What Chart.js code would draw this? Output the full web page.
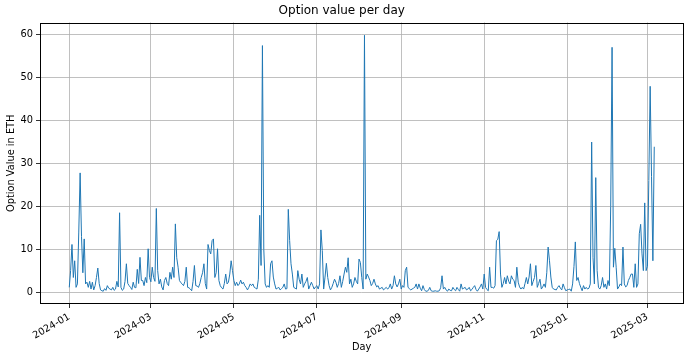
<!DOCTYPE html>
<html>
<head>
<meta charset="utf-8">
<script src="https://cdn.jsdelivr.net/npm/chart.js@4.4.1/dist/chart.umd.min.js"></script>
<style>
  body { margin: 0; background: #fff; }
  canvas { display: block; }
</style>
</head>
<body>
<canvas id="optionValue" width="690" height="360"></canvas>
<script>
// daily option value in ETH, one entry per day starting at startDay
const startDay = '2024-01-01';
const optionValues = [
  1.1, 5, 11.1, 3.4, 7.3, 1.1, 1.9, 14, 27.8, 13,
  4.5, 12.4, 1.9, 2.3, 1.1, 2.5, 0.7, 2.3, 0.5, 1.5,
  3.4, 5.6, 2.0, 0.5, 0.3, 0.2, 0.8, 0.4, 1.5, 0.9,
  0.7, 0.5, 1.1, 0.4, 0.7, 2.5, 1.2, 18.5, 1.1, 0.4,
  0.7, 2.5, 6.6, 2.0, 1.5, 1.1, 0.6, 2.3, 1.1, 1.0,
  5.3, 2.0, 8.1, 2.7, 2.7, 1.5, 3.4, 2.2, 10.1, 3.4,
  2.4, 5.8, 3.4, 2.5, 19.5, 5.0, 1.9, 3.0, 1.2, 0.5,
  2.7, 3.4, 2.0, 1.5, 4.6, 3.0, 5.8, 3.4, 15.9, 8.0,
  5.8, 2.7, 2.2, 1.9, 1.5, 2.5, 5.8, 1.1, 1.0, 0.7,
  0.3, 2.5, 6.2, 1.5, 1.4, 1.1, 2.0, 3.4, 4.5, 6.6,
  2.0, 0.7, 11.1, 9.7, 8.9, 12.0, 12.4, 3.4, 4.5, 10.1,
  2.7, 1.5, 1.0, 0.7, 2.0, 4.2, 1.9, 2.3, 4.2, 7.3,
  5.0, 2.7, 1.5, 2.3, 1.5, 1.9, 2.8, 1.9, 2.3, 1.5,
  1.1, 0.5, 1.1, 1.9, 1.5, 1.9, 1.1, 0.9, 0.7, 3.0,
  17.9, 6.2, 57.5, 10.0, 1.9, 1.1, 1.5, 1.1, 6.6, 7.3,
  3.5, 1.9, 0.7, 0.9, 1.1, 0.5, 0.8, 1.1, 1.9, 0.7,
  0.8, 19.3, 12.0, 6.6, 4.2, 1.1, 0.9, 0.7, 5.0, 3.0,
  1.9, 4.2, 1.1, 1.9, 2.5, 3.4, 0.7, 1.5, 2.3, 1.5,
  0.7, 1.2, 1.5, 0.7, 1.9, 14.5, 9.7, 0.7, 3.5, 6.7,
  3.4, 1.5, 0.5, 1.1, 2.0, 3.0, 2.3, 1.1, 2.0, 3.8,
  1.1, 2.5, 4.2, 5.8, 4.6, 8.0, 1.9, 3.0, 1.1, 1.9,
  3.4, 2.5, 1.9, 7.7, 6.9, 3.4, 0.7, 59.9, 3.0, 4.2,
  3.5, 2.7, 1.5, 2.0, 3.0, 1.9, 1.2, 1.5, 0.7, 0.9,
  1.1, 0.5, 0.8, 1.1, 0.7, 1.0, 1.9, 0.7, 1.5, 3.8,
  1.9, 1.2, 1.9, 3.0, 0.7, 1.5, 1.1, 5.0, 5.8, 1.1,
  0.8, 0.5, 0.7, 0.9, 1.1, 1.9, 0.7, 1.9, 0.9, 0.3,
  1.5, 0.6, 0.2, 0.2, 0.4, 1.1, 0.3, 0.2, 0.2, 0.3,
  0.2, 0.2, 0.3, 1.0, 3.8, 0.7, 1.1, 0.5, 0.2, 0.7,
  0.4, 0.3, 1.1, 0.6, 0.3, 1.1, 0.6, 0.2, 1.9, 0.7,
  0.9, 1.1, 0.5, 0.7, 1.1, 0.3, 0.6, 1.1, 1.5, 0.6,
  0.2, 0.7, 1.2, 1.9, 0.7, 4.2, 1.1, 0.6, 0.3, 5.8,
  1.1, 1.1, 0.9, 1.5, 12.0, 12.3, 14.1, 4.2, 1.1, 2.0,
  3.4, 1.9, 3.8, 2.5, 1.9, 3.8, 3.0, 2.7, 1.1, 5.8,
  2.3, 1.2, 0.7, 1.1, 0.7, 2.0, 3.4, 1.9, 3.5, 6.6,
  1.5, 2.5, 3.4, 6.2, 1.1, 2.0, 3.0, 0.7, 1.2, 1.9,
  1.1, 4.5, 10.5, 7.3, 3.5, 1.1, 0.7, 0.6, 0.5, 1.1,
  1.5, 0.9, 0.5, 1.9, 1.0, 0.3, 0.5, 0.6, 0.7, 0.2,
  1.9, 6.0, 11.7, 2.7, 3.4, 2.0, 1.1, 0.3, 1.5, 0.7,
  1.1, 0.7, 0.9, 1.9, 35.0, 8.0, 1.9, 26.7, 5.0, 1.1,
  0.7, 1.5, 3.4, 1.1, 1.9, 0.7, 2.7, 1.5, 20.0, 57.1,
  5.8, 10.2, 5.8, 0.7, 1.2, 1.9, 1.5, 10.5, 1.9, 1.2,
  1.5, 2.7, 3.4, 4.2, 4.2, 1.1, 6.6, 1.1, 1.9, 13.6,
  15.8, 8.9, 5.0, 20.8, 5.0, 6.0, 26.0, 48.0, 27.0, 7.3,
  33.9
];

const tickDates = ['2024-01-01', '2024-03-01', '2024-05-01', '2024-07-01',
                   '2024-09-01', '2024-11-01', '2025-01-01', '2025-03-01'];
const tickLabels = ['2024-01', '2024-03', '2024-05', '2024-07',
                    '2024-09', '2024-11', '2025-01', '2025-03'];
const yTicks = [0, 10, 20, 30, 40, 50, 60];

const dayOf = d => (Date.parse(d) - Date.parse(startDay)) / 86400000;
const tickDays = tickDates.map(dayOf);

const points = optionValues.map((v, i) => ({ x: i, y: v }));

// matplotlib style 5% margins
const lastDay = optionValues.length - 1;
const xPad = lastDay * 0.05;
const yMin = Math.min(...optionValues), yMax = Math.max(...optionValues);
const yPad = (yMax - yMin) * 0.05;

const font = { family: 'DejaVu Sans', size: 9.8 };

const frame = {
  id: 'frame',
  afterDraw(chart) {
    const { ctx, chartArea: a } = chart;
    const l = Math.round(a.left) + 0.5, t = Math.round(a.top) + 0.5;
    const r = Math.round(a.right) - 0.5, b = Math.round(a.bottom) - 0.5;
    ctx.save();
    ctx.strokeStyle = '#000';
    ctx.lineWidth = 1;
    ctx.strokeRect(l, t, r - l, b - t);
    ctx.restore();
  }
};

const ctx = document.getElementById('optionValue');
const chart = new Chart(ctx, {
  type: 'line',
  data: {
    datasets: [{
      label: 'Option value',
      data: points,
      borderColor: '#1f77b4',
      borderWidth: 1,
      pointRadius: 0,
      tension: 0,
      fill: false
    }]
  },
  options: {
    responsive: false,
    animation: false,
    layout: { padding: { left: 0, right: 6.5, top: 0, bottom: 0 } },
    plugins: {
      legend: { display: false },
      tooltip: { enabled: false },
      title: {
        display: true,
        text: 'Option value per day',
        color: '#000',
        font: { family: 'DejaVu Sans', size: 12, weight: 'normal' },
        padding: { top: 3.8, bottom: 4.3 }
      }
    },
    scales: {
      x: {
        type: 'linear',
        min: -xPad,
        max: lastDay + xPad,
        afterBuildTicks: s => { s.ticks = tickDays.map(v => ({ value: v })); },
        afterFit: s => { s.height = 56; },
        ticks: {
          color: '#000',
          font: font,
          minRotation: 30,
          maxRotation: 30,
          padding: 3,
          autoSkip: false,
          callback: v => tickLabels[tickDays.indexOf(v)]
        },
        grid: { color: '#b0b0b0', lineWidth: 0.8, tickLength: 4, tickColor: '#000' },
        border: { display: false },
        title: {
          display: true,
          text: 'Day',
          color: '#000',
          font: font,
          padding: { top: 0, bottom: 7 }
        }
      },
      y: {
        min: yMin - yPad,
        max: yMax + yPad,
        afterBuildTicks: s => { s.ticks = yTicks.map(v => ({ value: v })); },
        afterFit: s => { s.width = 40; },
        ticks: { color: '#000', font: font, padding: 3 },
        grid: { color: '#b0b0b0', lineWidth: 0.8, tickLength: 4, tickColor: '#000' },
        border: { display: false },
        title: {
          display: true,
          text: 'Option Value in ETH',
          color: '#000',
          font: font,
          padding: { top: 6, bottom: 0 }
        }
      }
    }
  },
  plugins: [frame]
});
</script>
</body>
</html>
